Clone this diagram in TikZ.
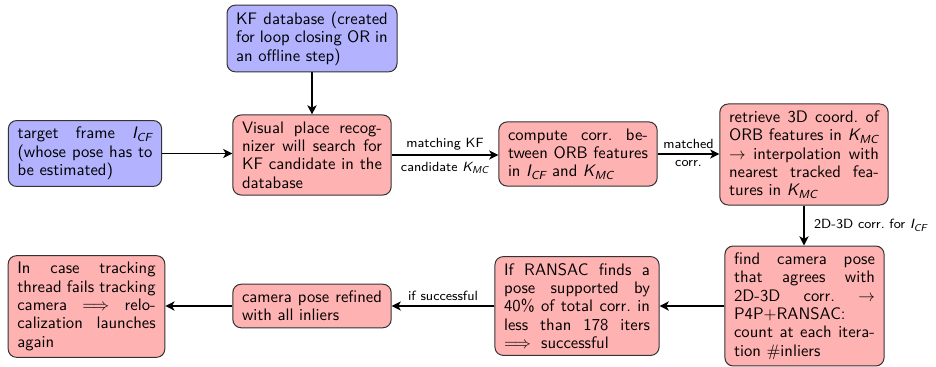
\documentclass[tikz,border=0pt]{standalone}
\usepackage{amsmath}
\usetikzlibrary{arrows.meta}
\renewcommand{\familydefault}{\sfdefault}
\hyphenpenalty=10000
\tolerance=10000
\newcommand{\ICF}{$\textit{I}_{\textit{CF}}$}
\newcommand{\KMC}{$\textit{K}_{\textit{MC}}$}
\tikzset{
  box/.style={draw=black!80, line width=0.6pt, rounded corners=5pt,
    align=justify, inner xsep=5.5pt, inner ysep=4pt,
    font=\fontsize{10}{11}\selectfont},
  bluebox/.style={box, fill=blue!30},
  redbox/.style={box, fill=red!30},
  flow/.style={line width=1.1pt, -{Stealth[length=5.5pt,width=5.5pt,inset=1.5pt]}},
  lab/.style={font=\fontsize{8}{9}\selectfont, inner sep=2.5pt},
}
\begin{document}
\begin{tikzpicture}[x=0.6pt, y=-0.6pt]
\useasboundingbox (0,0) rectangle (936,367);

% top row
\node[bluebox, text width=91pt] (kfdb) at (312,38.5)
  {KF database (created\linebreak for loop closing OR in\linebreak an offline step)};
\node[bluebox, text width=81pt] (target) at (85,153.5)
  {target frame \ICF\linebreak (whose pose has to\linebreak be estimated)};
\node[redbox, text width=84pt] (visual) at (312,155)
  {Visual place recog-\linebreak nizer will search for\linebreak KF candidate in the\linebreak database};
\node[redbox, text width=84pt] (compute) at (578,154)
  {compute corr.\ be-\linebreak tween ORB features\linebreak in \ICF{} and \KMC};
\node[redbox, text width=90pt] (retrieve) at (804,154.5)
  {retrieve 3D coord.\ of\linebreak ORB features in \KMC\linebreak $\rightarrow$ interpolation with\linebreak nearest tracked fea-\linebreak tures in \KMC};

% bottom row
\node[redbox, text width=84.5pt] (find) at (804.5,306)
  {find camera pose\linebreak that agrees with\linebreak 2D-3D corr.\ $\rightarrow$\linebreak P4P$+$RANSAC:\linebreak count at each itera-\linebreak tion $\#$inliers};
\node[redbox, text width=87.5pt] (ransac) at (577,306)
  {If RANSAC finds a\linebreak pose supported by\linebreak 40\% of total corr.\ in\linebreak less than 178 iters\linebreak $\implies$ successful};
\node[redbox, text width=84pt] (refined) at (312,306)
  {camera pose refined\linebreak with all inliers};
\node[redbox, text width=83pt] (incase) at (86.5,306.5)
  {In case tracking\linebreak thread fails tracking\linebreak camera $\implies$ relo-\linebreak calization launches\linebreak again};

% connectors
\draw[flow] (kfdb.south) -- (kfdb.south |- visual.north);
\draw[flow] (target.east) -- (target.east -| visual.west);
\draw[flow] (visual.east) -- (visual.east -| compute.west)
  node[lab, midway, above] {matching KF}
  node[lab, midway, below, yshift=-1pt] {candidate \KMC};
\draw[flow] (compute.east) -- (compute.east -| retrieve.west)
  node[lab, midway, above] {matched}
  node[lab, midway, below, yshift=-1pt] {corr.};
\draw[flow] (retrieve.south) -- (retrieve.south |- find.north)
  node[lab, midway, right, xshift=3pt] {2D-3D corr.\ for \ICF};
\draw[flow] (find.west) -- (find.west -| ransac.east);
\draw[flow] (ransac.west) -- (ransac.west -| refined.east)
  node[lab, midway, above] {if successful};
\draw[flow] (refined.west) -- (refined.west -| incase.east);
\end{tikzpicture}
\end{document}
